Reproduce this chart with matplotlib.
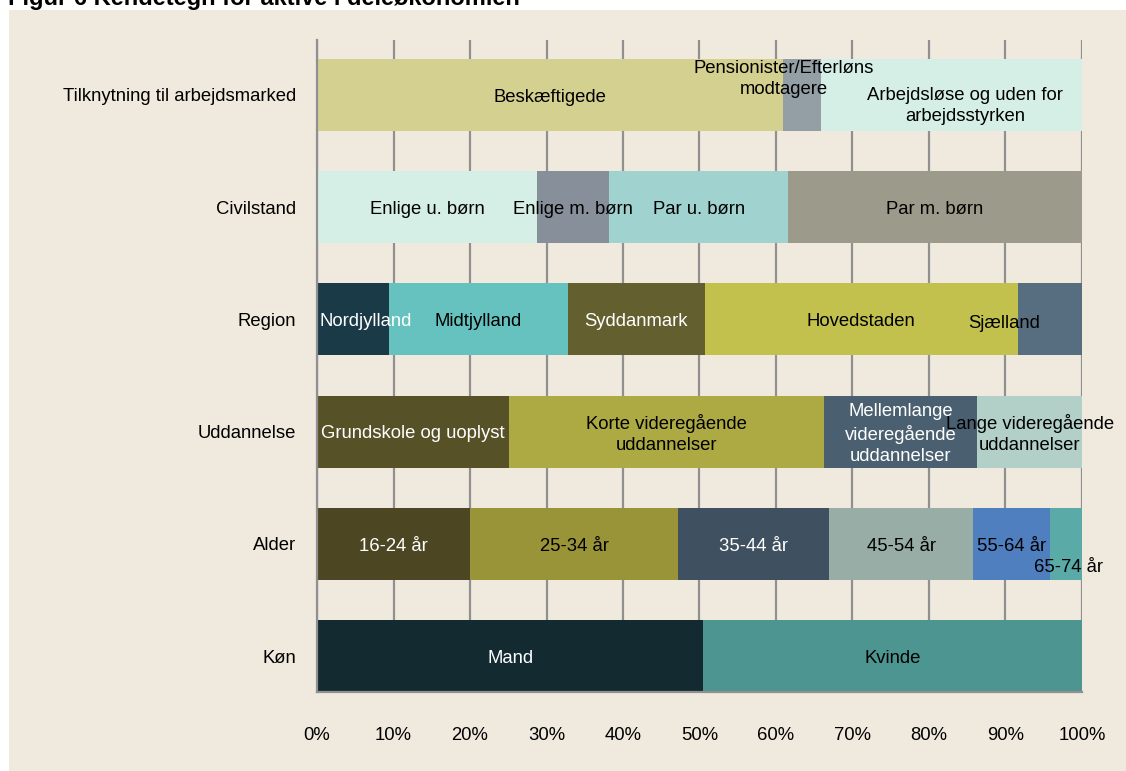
import matplotlib
matplotlib.use("Agg")
import matplotlib.pyplot as plt
from matplotlib.patches import Rectangle

plt.rcParams['font.family'] = ['Liberation Sans', 'DejaVu Sans']

title = "Figur 6 Kendetegn for aktive i deleøkonomien"
categories = ["Tilknytning til arbejdsmarked", "Civilstand", "Region",
              "Uddannelse", "Alder", "Køn"]

labels_tilk = ["Beskæftigede", "Pensionister/Efterløns\nmodtagere",
               "Arbejdsløse og uden for\narbejdsstyrken"]
values_tilk = [60.9, 5.0, 34.1]

labels_civil = ["Enlige u. børn", "Enlige m. børn", "Par u. børn", "Par m. børn"]
values_civil = [28.8, 9.4, 23.4, 38.4]

labels_region = ["Nordjylland", "Midtjylland", "Syddanmark", "Hovedstaden", "Sjælland"]
values_region = [9.4, 23.4, 17.9, 40.9, 8.4]

labels_udd = ["Grundskole og uoplyst", "Korte videregående\nuddannelser",
              "Mellemlange\nvideregående\nuddannelser", "Lange videregående\nuddannelser"]
values_udd = [25.1, 41.2, 20.0, 13.7]

labels_alder = ["16-24 år", "25-34 år", "35-44 år", "45-54 år", "55-64 år", "65-74 år"]
values_alder = [20.0, 27.2, 19.7, 18.9, 10.0, 4.2]

labels_kon = ["Mand", "Kvinde"]
values_kon = [50.5, 49.5]

xticks = [0, 10, 20, 30, 40, 50, 60, 70, 80, 90, 100]
xticklabels = [f"{t}%" for t in xticks]

# styles
colors = [
    ["#d4d08f", "#939fa4", "#d6efe6"],
    ["#d6efe6", "#87909a", "#a0d3d0", "#9c9a8a"],
    ["#1b3a47", "#66c2bf", "#635f2f", "#c3c14d", "#566e80"],
    ["#575128", "#adaa44", "#4a6070", "#b2d0c8"],
    ["#4c4622", "#9a9438", "#3f5060", "#98ada5", "#4f7fbf", "#5aaaa8"],
    ["#132a31", "#4d9591"],
]
text_colors = [
    ["black", "black", "black"],
    ["black", "black", "black", "black"],
    ["white", "black", "white", "black", "black"],
    ["white", "black", "white", "black"],
    ["white", "black", "white", "black", "black", "black"],
    ["white", "black"],
]
# label offsets (dx in %, dy in category units)
offsets = {
    (0, 1): (-2.4, -0.16),
    (0, 2): (1.8, 0.08),
    (2, 0): (1.7, 0.0),
    (2, 4): (-6.0, 0.02),
    (4, 5): (0.3, 0.19),
}
base_dy = 0.02

all_labels = [labels_tilk, labels_civil, labels_region, labels_udd, labels_alder, labels_kon]
all_values = [values_tilk, values_civil, values_region, values_udd, values_alder, values_kon]

W, H = 1126, 771
fs = 13.3
fig = plt.figure(figsize=(W / 100, H / 100), dpi=100)
fig.patch.set_facecolor("white")
fig.patches.append(Rectangle((9 / W, 0), 1 - 9 / W, 1 - 10 / H, transform=fig.transFigure,
                             facecolor="#f0e9de", edgecolor="none", zorder=-10))
fig.text(8 / W, 1 - 5 / H, title, fontsize=17, fontweight="bold", ha="left", va="baseline")

ax = fig.add_axes([317 / W, 1 - 692 / H, (1082 - 317) / W, (692 - 40) / H])
ax.set_facecolor("none")

bar_h = 0.642
for i, (labs, vals) in enumerate(zip(all_labels, all_values)):
    left = 0.0
    for j, (lab, v) in enumerate(zip(labs, vals)):
        ax.barh(i, v, left=left, height=bar_h, color=colors[i][j], edgecolor="none", zorder=2)
        dx, dy = offsets.get((i, j), (0, 0))
        ax.text(left + v / 2 + dx, i + dy + base_dy, lab, ha="center", va="center",
                fontsize=fs, color=text_colors[i][j], linespacing=1.3, zorder=3)
        left += v

ax.set_xlim(0, 100)
ax.set_ylim(5.32, -0.49)
ax.set_yticks(range(len(categories)))
ax.set_yticklabels(categories, fontsize=fs)
ax.set_xticks(xticks)
ax.set_xticklabels(xticklabels, fontsize=fs)
ax.tick_params(axis="x", length=0, pad=25)
ax.tick_params(axis="y", length=0, pad=15)
ax.xaxis.grid(True, color="#909090", linewidth=1.6, zorder=0)
ax.set_axisbelow(True)
for s in ["top", "right"]:
    ax.spines[s].set_visible(False)
for s in ["left", "bottom"]:
    ax.spines[s].set_color("#909090")
    ax.spines[s].set_linewidth(1.6)

fig.savefig("out.png", dpi=100)
